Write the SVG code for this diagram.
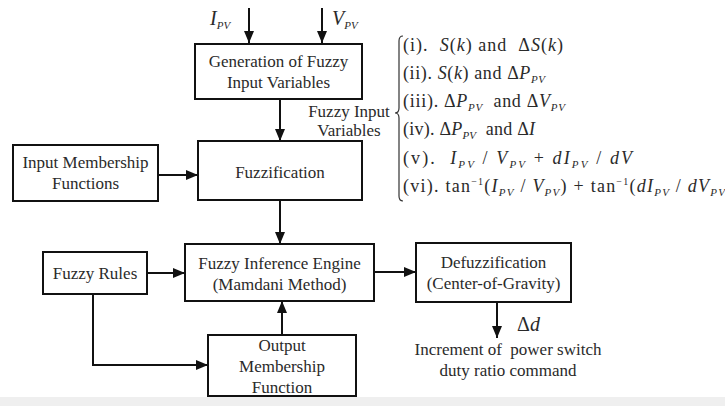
<svg xmlns="http://www.w3.org/2000/svg" width="725" height="406" viewBox="0 0 725 406">
<style>
  .box { fill: #fff; stroke: #111; stroke-width: 2; }
  text { font-family: 'Liberation Serif', 'Times New Roman', serif; font-size: 17px; fill: #2a2a2a; white-space: pre; }
  .c { text-anchor: middle; }
  .i { font-style: italic; }
  .sub { font-size: 11px; font-style: italic; }
  .sup { font-size: 10px; }
  .lst { font-size: 18px; }
  .edge { fill: none; stroke: #111; stroke-width: 2; }
</style>
<defs>
  <marker id="arr" viewBox="0 0 12 10" refX="12" refY="5" markerWidth="12" markerHeight="10" markerUnits="userSpaceOnUse" orient="auto">
    <path d="M0,0 L12,5 L0,10 z" fill="#111"/>
  </marker>
</defs>
<rect x="0" y="0" width="725" height="406" fill="#fff"/>
<rect x="0" y="397" width="725" height="9" fill="#efefef"/>

<g id="connectors">
  <line class="edge" x1="249" y1="8" x2="249" y2="43" marker-end="url(#arr)"/>
  <line class="edge" x1="322" y1="8" x2="322" y2="43" marker-end="url(#arr)"/>
  <line class="edge" x1="280" y1="99" x2="280" y2="141" marker-end="url(#arr)"/>
  <line class="edge" x1="158" y1="175" x2="198" y2="175" marker-end="url(#arr)"/>
  <line class="edge" x1="280" y1="200" x2="280" y2="244" marker-end="url(#arr)"/>
  <line class="edge" x1="147" y1="273" x2="185" y2="273" marker-end="url(#arr)"/>
  <path class="edge" d="M93,294 V365 H208" marker-end="url(#arr)"/>
  <line class="edge" x1="282" y1="335" x2="282" y2="301" marker-end="url(#arr)"/>
  <line class="edge" x1="374" y1="272" x2="416" y2="272" marker-end="url(#arr)"/>
  <line class="edge" x1="497" y1="302" x2="497" y2="338" marker-end="url(#arr)"/>
</g>

<g id="input-labels">
  <text class="i" x="210" y="25" style="font-size:20px">I<tspan class="sub" dy="4">PV</tspan></text>
  <text class="i" x="332" y="25" style="font-size:20px">V<tspan class="sub" dy="4">PV</tspan></text>
</g>

<g id="gen">
  <rect class="box" x="195" y="44" width="167" height="55"/>
  <text class="c" x="278.5" y="67">Generation of Fuzzy</text>
  <text class="c" x="278.5" y="88">Input Variables</text>
</g>

<g id="fuzzy-input-label">
  <text class="c" x="349" y="117">Fuzzy Input</text>
  <text class="c" x="349" y="136">Variables</text>
</g>

<g id="fuzzification">
  <rect class="box" x="198" y="141" width="164" height="59"/>
  <text class="c" x="280" y="178">Fuzzification</text>
</g>

<g id="input-mf">
  <rect class="box" x="13" y="145" width="145" height="56"/>
  <text class="c" x="85.5" y="168">Input Membership</text>
  <text class="c" x="85.5" y="189">Functions</text>
</g>

<g id="fuzzy-rules">
  <rect class="box" x="43" y="252" width="104" height="42"/>
  <text class="c" x="95" y="279">Fuzzy Rules</text>
</g>

<g id="fie">
  <rect class="box" x="185" y="244" width="189" height="57"/>
  <text class="c" x="279.5" y="269">Fuzzy Inference Engine</text>
  <text class="c" x="279.5" y="290">(Mamdani Method)</text>
</g>

<g id="output-mf">
  <rect class="box" x="208" y="335" width="148" height="61"/>
  <text class="c" x="282" y="351">Output</text>
  <text class="c" x="282" y="372">Membership</text>
  <text class="c" x="282" y="393">Function</text>
</g>

<g id="defuzz">
  <rect class="box" x="416" y="243" width="155" height="59"/>
  <text class="c" x="493.5" y="268">Defuzzification</text>
  <text class="c" x="493.5" y="289">(Center-of-Gravity)</text>
</g>

<g id="output-label">
  <text x="517" y="331" style="font-size:20px">Δ<tspan class="i">d</tspan></text>
  <text class="c" x="508" y="355">Increment of  power switch</text>
  <text class="c" x="508" y="376">duty ratio command</text>
</g>

<g id="variable-list">
  <path d="M403,36 Q399,36 399,41 V108 Q399,113 395,113 Q399,113 399,118 V196 Q399,201 403,201" fill="none" stroke="#333" stroke-width="1.2"/>
  <text class="lst" x="403" y="51" textLength="160" lengthAdjust="spacing">(i).  <tspan class="i">S</tspan>(<tspan class="i">k</tspan>) and  Δ<tspan class="i">S</tspan>(<tspan class="i">k</tspan>)</text>
  <text class="lst" x="403" y="79" textLength="142" lengthAdjust="spacing">(ii). <tspan class="i">S</tspan>(<tspan class="i">k</tspan>) and Δ<tspan class="i">P</tspan><tspan class="sub" dy="4">PV</tspan></text>
  <text class="lst" x="403" y="107" textLength="162" lengthAdjust="spacing">(iii). Δ<tspan class="i">P</tspan><tspan class="sub" dy="4">PV</tspan><tspan dy="-4">  and Δ</tspan><tspan class="i">V</tspan><tspan class="sub" dy="4">PV</tspan></text>
  <text class="lst" x="403" y="135" textLength="132" lengthAdjust="spacing">(iv). Δ<tspan class="i">P</tspan><tspan class="sub" dy="4">PV</tspan><tspan dy="-4">  and Δ</tspan><tspan class="i">I</tspan></text>
  <text class="lst" x="403" y="164" textLength="229" lengthAdjust="spacing">(v).  <tspan class="i">I</tspan><tspan class="sub" dy="4">PV</tspan><tspan dy="-4"> / </tspan><tspan class="i">V</tspan><tspan class="sub" dy="4">PV</tspan><tspan dy="-4"> + </tspan><tspan class="i">dI</tspan><tspan class="sub" dy="4">PV</tspan><tspan dy="-4"> / </tspan><tspan class="i">dV</tspan></text>
  <text class="lst" x="403" y="192" textLength="322" lengthAdjust="spacing">(vi). tan<tspan class="sup" dy="-7">−1</tspan><tspan dy="7">(</tspan><tspan class="i">I</tspan><tspan class="sub" dy="4">PV</tspan><tspan dy="-4"> / </tspan><tspan class="i">V</tspan><tspan class="sub" dy="4">PV</tspan><tspan dy="-4">) + tan</tspan><tspan class="sup" dy="-7">−1</tspan><tspan dy="7">(</tspan><tspan class="i">dI</tspan><tspan class="sub" dy="4">PV</tspan><tspan dy="-4"> / </tspan><tspan class="i">dV</tspan><tspan class="sub" dy="4">PV</tspan></text>
</g>
</svg>
